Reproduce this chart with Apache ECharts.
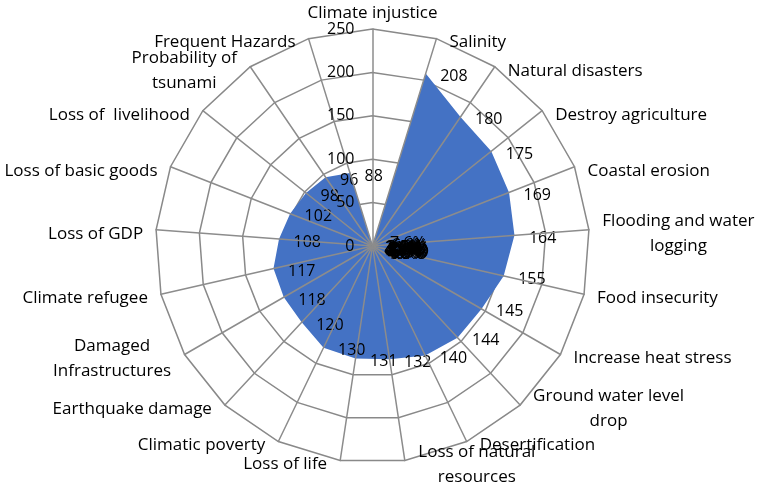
<!DOCTYPE html>
<html>
<head>
<meta charset="utf-8">
<script src="https://cdn.jsdelivr.net/npm/echarts@6/dist/echarts.min.js"></script>
<style>
	html,body{margin:0;padding:0;background:#fff;}
	#chart{width:765px;height:484px;}
</style>
</head>
<body>
<div id="chart"></div>
<script>
// categories clockwise from the top
var categories = ['Climate injustice','Salinity','Natural disasters','Destroy agriculture','Coastal erosion',
	'Flooding and water\nlogging','Food insecurity','Increase heat stress','Ground water level\ndrop','Desertification',
	'Loss of natural\nresources','Loss of life','Climatic poverty','Earthquake damage','Damaged\nInfrastructures',
	'Climate refugee','Loss of GDP','Loss of basic goods','Loss of  livelihood','Probability of\ntsunami','Frequent Hazards'];
// counts
var counts = [0,208,180,175,169,164,155,145,144,140,132,131,130,120,118,117,108,102,98,96,88];
// share in percent (second series, sits at the centre)
var shares = [0.0,7.6,6.6,6.4,6.2,6.0,5.7,5.3,5.3,5.1,4.9,4.8,4.8,4.4,4.3,4.3,4.0,3.8,3.6,3.5,3.2];
var axisMax = 250;
var axisStep = 50;

var FONT = 'Open Sans';
var NAME_SIZE = 17;
var chart = echarts.init(document.getElementById('chart'));

//measure text so wrapped names can be centred line by line
var ctx = document.createElement('canvas').getContext('2d');
ctx.font = NAME_SIZE+'px "'+FONT+'"';

// echarts lays indicators out counter-clockwise, the picture runs clockwise
var order = [0];
for(var i=categories.length-1;i>0;i--) order.push(i);

var n = categories.length;
var indicator = [], spokes = [], countVals = [], shareVals = [];
var rich = {};
for(var k=0;k<order.length;k++){
	var i = order[k];
	var pad;
	if(i==0) pad = [0,0,3,0];
	else if(i*2<n) pad = [8,0,0,13]; //right half
	else pad = [8,13,0,0];            //left half
	var ind = {name:categories[i],min:0,max:axisMax,nameTextStyle:{padding:pad}};
	indicator.push(ind);
	var sp = {name:'',min:0,max:axisMax};
	if(k==0) sp.axisLabel = {show:true}; //only the top axis carries the scale
	spokes.push(sp);
	countVals.push(counts[i]);
	shareVals.push(shares[i]);
	if(categories[i].indexOf('\n')>=0){
		var lines = categories[i].split('\n');
		var w = 0;
		for(var j=0;j<lines.length;j++) w = Math.max(w,ctx.measureText(lines[j]).width);
		rich['c'+i] = {width:Math.ceil(w),align:'center',color:'#000',fontFamily:FONT,fontSize:NAME_SIZE,lineHeight:25};
	}
}

chart.setOption({
	animation:false,
	radar:[{
		center:[372.5,246],
		radius:217,
		startAngle:90,
		shape:'polygon',
		splitNumber:axisMax/axisStep,
		indicator:indicator,
		axisName:{
			color:'#000',fontFamily:FONT,fontSize:NAME_SIZE,lineHeight:25,
			rich:rich,
			formatter:function(name){
				var i = categories.indexOf(name);
				if(name.indexOf('\n')<0) return name;
				return name.split('\n').map(function(s){return '{c'+i+'|'+s+'}';}).join('\n');
			}
		},
		nameGap:0,
		splitArea:{show:false},
		splitLine:{lineStyle:{color:'#898989',width:1.5}},
		axisLine:{show:false},
		axisTick:{show:false},
		axisLabel:{show:false}
	},{
		// spokes and scale drawn over the filled area
		center:[372.5,246],
		radius:217,
		startAngle:90,
		shape:'polygon',
		splitNumber:axisMax/axisStep,
		indicator:spokes,
		z:5,
		axisName:{show:false},
		splitArea:{show:false},
		splitLine:{show:false},
		axisLine:{lineStyle:{color:'#8c8c8c',width:1.5}},
		axisTick:{show:false},
		axisLabel:{show:false,color:'#000',fontFamily:FONT,fontSize:16,margin:18,padding:[8,0,0,0]}
	}],
	series:[{
		type:'radar',
		radarIndex:0,
		z:2,
		symbol:'circle',
		symbolSize:1,
		itemStyle:{color:'#4472C4'},
		lineStyle:{width:0},
		areaStyle:{color:'#4472C4',opacity:1},
		label:{show:true,position:'right',distance:14,offset:[0,3],color:'#000',fontFamily:FONT,fontSize:16},
		data:[{value:countVals,name:'Count'}]
	},{
		type:'radar',
		radarIndex:0,
		z:6,
		symbol:'circle',
		symbolSize:1,
		itemStyle:{color:'#8c8c8c'},
		lineStyle:{width:0},
		label:{show:true,position:'right',distance:15,offset:[0,4],color:'#000',fontFamily:FONT,fontSize:16,
			formatter:function(p){return p.value.toFixed(1)+'%';}},
		data:[{value:shareVals,name:'Share'}]
	}]
});
</script>
</body>
</html>
